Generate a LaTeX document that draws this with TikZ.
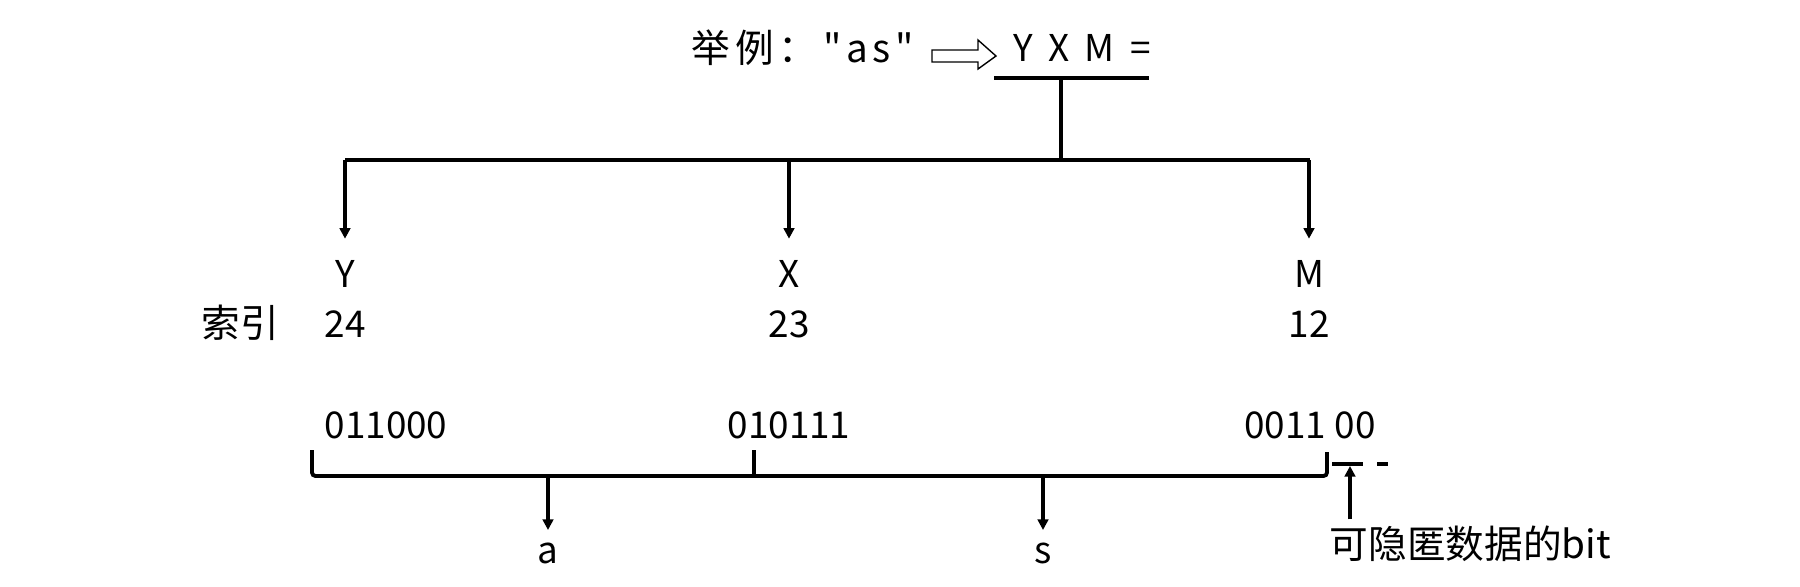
\documentclass[tikz,border=0pt]{standalone}
\usepackage{fontspec}
\setmainfont{Noto Sans CJK SC}
\newfontfamily\spaced[LetterSpace=12]{Noto Sans CJK SC}
\newfontfamily\wide[LetterSpace=19]{Noto Sans CJK SC}
\usetikzlibrary{arrows.meta}

\begin{document}
\begin{tikzpicture}[x=0.02cm, y=-0.02cm, line width=2.2pt,
  lbl/.style={anchor=base, inner sep=0pt, font=\fontsize{21}{25}\selectfont},
  cjk/.style={lbl, font=\fontsize{22}{26}\selectfont},
  down/.style={-{Triangle[width=6pt,length=6pt]}}]
\useasboundingbox (0,0) rectangle (1800,586);
% title
\node [cjk, font=\fontsize{22}{26}\spaced] (title) at (803,62) {举例：\,"as"};
\node [lbl, font=\fontsize{21}{26}\wide] (yxm) at (1082,61) {Y X M =};
\draw [line width=0.8pt] (932,50) -- (978,50) -- (978,40) -- (996,56) -- (978,69) -- (978,62) -- (932,62) -- cycle;
\coordinate (ul) at (994,78);
\coordinate (ur) at (1149,78);
\coordinate (stem) at (1061,78);
\coordinate (hub) at (1061,160);
\coordinate (bl) at (345,160);
\coordinate (br) at (1310,160);
\draw (ul) -- (ur);
\draw (stem) -- (hub);
\draw (bl) -- (br);
% letters and index
\node [lbl] (Y) at (345,287) {Y};
\node [lbl] (X) at (789,287) {X};
\node [lbl] (M) at (1309,287) {M};
\node [lbl] (nY) at (345,337) {24};
\node [lbl] (nX) at (789,337) {23};
\node [lbl] (nM) at (1309,337) {12};
\node [cjk, anchor=base west] (idx) at (200,337) {索引};
\foreach \n in {Y,X,M}
  \draw [down, shorten >=11pt] (\n |- bl) -- (\n.north);
% bits
\node [lbl] (bY) at (386,438) {011000};
\node [lbl] (bX) at (789,438) {010111};
\node [lbl] (bM) at (1310,438) {0011 00};
\coordinate (k1) at (312,450);
\coordinate (k2) at (754,450);
\coordinate (k3) at (1327,452);
\coordinate (bar) at (312,476);
\draw [rounded corners=2pt] (k1) -- (k1 |- bar) -- (k3 |- bar) -- (k3);
\draw (k2) -- (k2 |- bar);
\node [lbl] (a) at (548,563) {a};
\node [lbl] (s) at (1043,563) {s};
\draw [down, shorten >=6pt] (a |- bar) -- (a.north);
\draw [down, shorten >=6pt] (s |- bar) -- (s.north);
% hidden bits
\coordinate (d1) at (1332,464);
\coordinate (d2) at (1363,464);
\coordinate (d3) at (1377,464);
\coordinate (d4) at (1388,464);
\draw (d1) -- (d2);
\draw (d3) -- (d4);
\node [cjk, anchor=base west] (hide) at (1328,558) {可隐匿数据的bit};
\coordinate (tip) at (1350,466);
\draw [down] (tip |- hide.north) ++(0,-4) -- (tip);
\end{tikzpicture}
\end{document}
